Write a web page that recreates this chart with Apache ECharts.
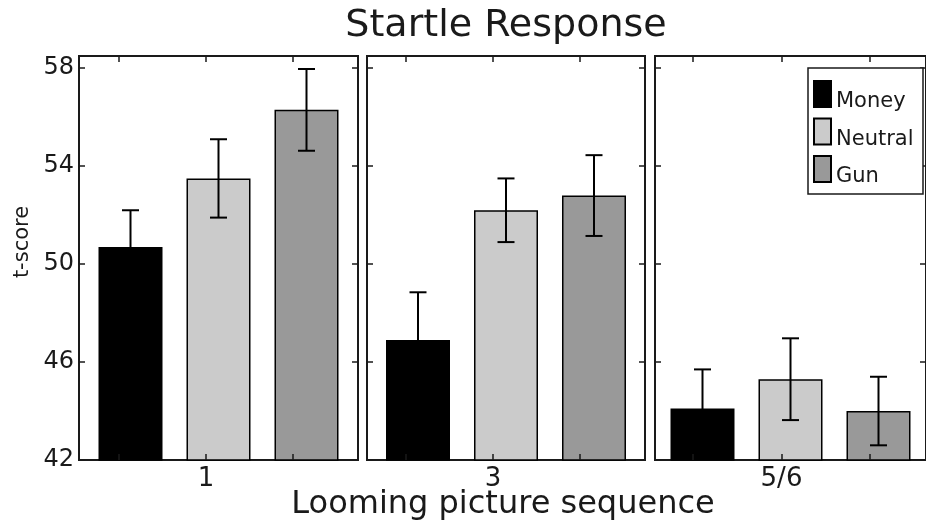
<!DOCTYPE html>
<html><head><meta charset="utf-8">
<script src="https://cdn.jsdelivr.net/npm/echarts@6/dist/echarts.min.js"></script>
<style>html,body{margin:0;padding:0;background:#fff}#c{width:926px;height:531px}</style>
</head><body><div id="c"></div>
<script>
const categories = ['1', '3', '5/6'];
const conditions = ['Money', 'Neutral', 'Gun'];
const money = [50.7, 46.9, 44.1];
const neutral = [53.5, 52.2, 45.3];
const gun = [56.3, 52.8, 44.0];
const moneyErr = [1.5, 1.95, 1.6];
const neutralErr = [1.6, 1.3, 1.67];
const gunErr = [1.67, 1.65, 1.4];
const yTicks = [42, 46, 50, 54, 58];
const titleText = 'Startle Response';
const xLabelText = 'Looming picture sequence';
const yLabelText = 't-score';

const values = [money, neutral, gun];
const errs = [moneyErr, neutralErr, gunErr];
const colors = ['#000000', '#cbcbcb', '#999999'];
const FONT = 'DejaVu Sans';
const INK = '#1a1a1a';
const panelLeft = [79, 367, 655];
const panelWidth = [279, 278, 279];
const tickLeft = [119, 406, 693];
const tickWidth = [174, 174, 177];
const TOP = 56, BOTTOM = 71;
const BAR_W = 64, BAR_STEP = 88;

const grid = [], xAxis = [], yAxis = [], series = [];
for (let i = 0; i < 3; i++) {
  grid.push({left: panelLeft[i], width: panelWidth[i], top: TOP, bottom: BOTTOM,
    show: true, borderColor: INK, borderWidth: 2, backgroundColor: 'transparent'});
}
for (let i = 0; i < 3; i++) {
  grid.push({left: tickLeft[i], width: tickWidth[i], top: TOP, bottom: BOTTOM, show: false});
}
for (let i = 0; i < 3; i++) {
  xAxis.push({gridIndex: i, type: 'category', data: [categories[i]],
    axisLine: {show: false}, axisTick: {show: false}, axisLabel: {show: false}, splitLine: {show: false}});
}
for (let i = 0; i < 3; i++) {
  xAxis.push({gridIndex: 3 + i, type: 'value', min: 0, max: 2, interval: 1, position: 'bottom', z: 10,
    axisLine: {show: false}, splitLine: {show: false},
    axisTick: {show: true, inside: true, length: 6, lineStyle: {color: INK, width: 1.5}},
    axisLabel: {show: true, margin: 6, fontSize: 26, fontFamily: FONT, color: INK,
      formatter: v => (v === 1 ? categories[i] : '')}});
}
for (let i = 0; i < 3; i++) {
  xAxis.push({gridIndex: 3 + i, type: 'value', min: 0, max: 2, interval: 1, position: 'top', z: 10,
    axisLine: {show: false}, splitLine: {show: false},
    axisTick: {show: true, inside: true, length: 6, lineStyle: {color: INK, width: 1.5}},
    axisLabel: {show: false}});
}
for (let i = 0; i < 3; i++) {
  yAxis.push({gridIndex: i, type: 'value', min: 42, max: 58.5, interval: 4, position: 'left', z: 10,
    axisLine: {show: false}, splitLine: {show: false},
    axisTick: {show: true, inside: true, length: 6, lineStyle: {color: INK, width: 1.5}},
    axisLabel: {show: i === 0, margin: 5, fontSize: 24, fontFamily: FONT, color: INK,
      formatter: v => (yTicks.includes(v) ? String(v) : '')}});
}
for (let i = 0; i < 3; i++) {
  yAxis.push({gridIndex: i, type: 'value', min: 42, max: 58.5, interval: 4, position: 'right', z: 10,
    axisLine: {show: false}, splitLine: {show: false},
    axisTick: {show: true, inside: true, length: 6, lineStyle: {color: INK, width: 1.5}},
    axisLabel: {show: false}});
}
for (let i = 0; i < 3; i++) {
  yAxis.push({gridIndex: 3 + i, type: 'value', min: 0, max: 1, show: false});
}

for (let i = 0; i < 3; i++) {
  for (let k = 0; k < 3; k++) {
    series.push({type: 'bar', name: conditions[k], xAxisIndex: i, yAxisIndex: i,
      data: [values[k][i]], barWidth: BAR_W, barGap: ((BAR_STEP - BAR_W) / BAR_W * 100) + '%',
      itemStyle: {color: colors[k], borderColor: '#000', borderWidth: 1.5}, z: 2});
  }
  series.push({type: 'custom', xAxisIndex: i, yAxisIndex: i, z: 5,
    data: conditions.map((c, k) => [0, values[k][i], errs[k][i], k]),
    encode: {x: 0, y: 1},
    renderItem: (params, api) => {
      const k = api.value(3);
      const v = api.value(1), e = api.value(2);
      const c = api.coord([0, v]);
      const x = c[0] + (k - 1) * BAR_STEP;
      const yHi = api.coord([0, v + e])[1];
      const yLo = api.coord([0, v - e])[1];
      const hw = 8.5;
      const st = {stroke: '#000', lineWidth: 2};
      return {type: 'group', children: [
        {type: 'line', shape: {x1: x, y1: yHi, x2: x, y2: yLo}, style: st},
        {type: 'line', shape: {x1: x - hw, y1: yHi, x2: x + hw, y2: yHi}, style: st},
        {type: 'line', shape: {x1: x - hw, y1: yLo, x2: x + hw, y2: yLo}, style: st}
      ]};
    }});
}

const chart = echarts.init(document.getElementById('c'));
chart.setOption({
  animation: false,
  backgroundColor: '#fff',
  grid, xAxis, yAxis, series,
  legend: {orient: 'vertical', left: 813, top: 80, data: conditions, selectedMode: false,
    icon: 'rect', itemWidth: 17, itemHeight: 26, itemGap: 5, padding: 0,
    borderWidth: 0, z: 20,
    formatter: '{t|{name}}',
    textStyle: {fontSize: 21, fontFamily: FONT, color: INK,
      rich: {t: {fontSize: 21, fontFamily: FONT, color: INK, padding: [16, 0, 0, 0]}}}},
  graphic: [
    {type: 'rect', z: 15, shape: {x: 808, y: 68, width: 115, height: 126},
      style: {fill: '#fff', stroke: INK, lineWidth: 1.5}},
    {type: 'text', x: 506, y: 26, style: {text: titleText, font: '38px "DejaVu Sans"', fill: INK, textAlign: 'center', textVerticalAlign: 'middle'}},
    {type: 'text', x: 503, y: 505, style: {text: xLabelText, font: '32px "DejaVu Sans"', fill: INK, textAlign: 'center', textVerticalAlign: 'middle'}},
    {type: 'text', x: 23, y: 242, rotation: Math.PI / 2, style: {text: yLabelText, font: '21px "DejaVu Sans"', fill: INK, textAlign: 'center', textVerticalAlign: 'middle'}}
  ]
});
</script></body></html>
